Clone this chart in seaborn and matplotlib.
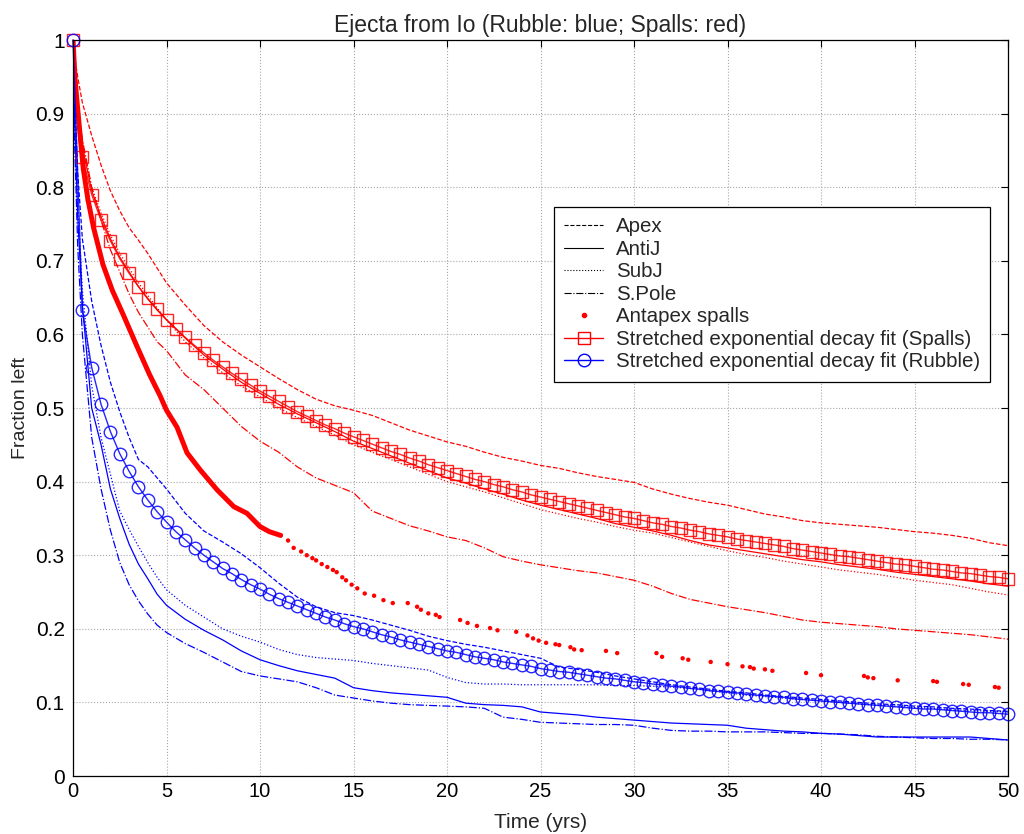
import numpy as np
import matplotlib
matplotlib.use("Agg")
import matplotlib.pyplot as plt
import seaborn as sns
from matplotlib.lines import Line2D

# ---------------- data ----------------
t_lines = [0, 0.1, 0.25, 0.5, 1, 1.5, 2, 2.5, 3, 3.5, 4, 4.5, 5,
           6, 7, 8, 9, 10, 11, 12, 13, 14, 15, 16, 17, 18, 19, 20,
           21, 22, 23, 24, 25, 26, 27, 28, 29, 30, 31, 32, 33, 34, 35,
           36, 37, 38, 39, 40, 41, 42, 43, 44, 45, 46, 47, 48, 49, 50]

spall_apex = [1, 0.975, 0.95, 0.915, 0.87, 0.83, 0.795, 0.768, 0.745, 0.728, 0.71, 0.69, 0.67,
              0.64, 0.612, 0.59, 0.572, 0.556, 0.54, 0.525, 0.512, 0.503, 0.497, 0.49, 0.48, 0.47, 0.462, 0.454,
              0.448, 0.44, 0.433, 0.428, 0.422, 0.418, 0.412, 0.407, 0.403, 0.399, 0.39, 0.383, 0.377, 0.372, 0.368,
              0.362, 0.356, 0.352, 0.347, 0.344, 0.342, 0.34, 0.338, 0.335, 0.332, 0.33, 0.327, 0.323, 0.317, 0.313]
spall_antij = [1, 0.95, 0.9, 0.855, 0.795, 0.76, 0.73, 0.705, 0.685, 0.665, 0.648, 0.633, 0.62,
               0.595, 0.572, 0.553, 0.535, 0.52, 0.505, 0.492, 0.48, 0.468, 0.455, 0.445, 0.435, 0.425, 0.415, 0.405,
               0.398, 0.39, 0.383, 0.375, 0.368, 0.362, 0.356, 0.35, 0.343, 0.338, 0.333, 0.327, 0.32, 0.314, 0.31,
               0.306, 0.302, 0.298, 0.294, 0.291, 0.287, 0.284, 0.281, 0.277, 0.274, 0.271, 0.268, 0.265, 0.261, 0.258]
spall_subj = [1, 0.955, 0.91, 0.86, 0.80, 0.765, 0.735, 0.71, 0.69, 0.67, 0.653, 0.636, 0.62,
              0.59, 0.568, 0.548, 0.53, 0.515, 0.5, 0.487, 0.475, 0.463, 0.45, 0.44, 0.43, 0.42, 0.41, 0.40,
              0.393, 0.386, 0.378, 0.37, 0.362, 0.356, 0.35, 0.345, 0.339, 0.334, 0.33, 0.324, 0.318, 0.312, 0.306,
              0.301, 0.297, 0.292, 0.288, 0.284, 0.28, 0.277, 0.274, 0.27, 0.266, 0.263, 0.26, 0.255, 0.25, 0.246]
spall_spole = [1, 0.95, 0.91, 0.865, 0.80, 0.755, 0.715, 0.685, 0.655, 0.63, 0.61, 0.59, 0.578,
               0.545, 0.525, 0.50, 0.475, 0.455, 0.44, 0.42, 0.405, 0.395, 0.385, 0.36, 0.35, 0.34, 0.333, 0.325,
               0.32, 0.31, 0.298, 0.292, 0.287, 0.283, 0.279, 0.276, 0.271, 0.266, 0.258, 0.248, 0.24, 0.235, 0.23,
               0.226, 0.222, 0.217, 0.212, 0.209, 0.207, 0.205, 0.203, 0.2, 0.198, 0.196, 0.194, 0.192, 0.189, 0.186]

rubble_apex = [1, 0.92, 0.82, 0.73, 0.645, 0.585, 0.535, 0.495, 0.46, 0.43, 0.42, 0.405, 0.39,
               0.357, 0.333, 0.318, 0.302, 0.283, 0.262, 0.243, 0.23, 0.222, 0.218, 0.212, 0.205, 0.198, 0.19, 0.184,
               0.179, 0.175, 0.17, 0.165, 0.16, 0.148, 0.145, 0.141, 0.136, 0.132, 0.128, 0.124, 0.121, 0.118, 0.115,
               0.113, 0.11, 0.108, 0.106, 0.104, 0.102, 0.1, 0.098, 0.097, 0.095, 0.094, 0.092, 0.091, 0.089, 0.088]
rubble_antij = [1, 0.88, 0.76, 0.64, 0.50, 0.45, 0.39, 0.35, 0.315, 0.288, 0.268, 0.247, 0.232,
                0.213, 0.198, 0.185, 0.17, 0.158, 0.15, 0.143, 0.138, 0.133, 0.12, 0.116, 0.113, 0.111, 0.109, 0.107,
                0.099, 0.097, 0.096, 0.094, 0.087, 0.085, 0.083, 0.08, 0.078, 0.076, 0.074, 0.072, 0.071, 0.07, 0.069,
                0.065, 0.063, 0.061, 0.06, 0.058, 0.057, 0.055, 0.053, 0.053, 0.053, 0.053, 0.053, 0.053, 0.051, 0.049]
rubble_subj = [1, 0.9, 0.78, 0.66, 0.53, 0.46, 0.41, 0.36, 0.335, 0.312, 0.29, 0.27, 0.253,
               0.232, 0.216, 0.2, 0.19, 0.182, 0.172, 0.165, 0.161, 0.159, 0.157, 0.153, 0.15, 0.147, 0.144, 0.134,
               0.127, 0.125, 0.125, 0.124, 0.124, 0.124, 0.124, 0.124, 0.123, 0.123, 0.122, 0.121, 0.119, 0.116, 0.113,
               0.11, 0.108, 0.106, 0.104, 0.102, 0.1, 0.098, 0.096, 0.095, 0.093, 0.092, 0.09, 0.089, 0.088, 0.087]
rubble_spole = [1, 0.85, 0.72, 0.6, 0.46, 0.39, 0.334, 0.29, 0.26, 0.238, 0.22, 0.205, 0.195,
                0.18, 0.168, 0.155, 0.142, 0.136, 0.132, 0.128, 0.12, 0.11, 0.106, 0.102, 0.099, 0.097, 0.096, 0.095,
                0.094, 0.092, 0.08, 0.077, 0.073, 0.072, 0.071, 0.07, 0.07, 0.069, 0.065, 0.062, 0.061, 0.061, 0.06,
                0.06, 0.06, 0.059, 0.058, 0.058, 0.057, 0.056, 0.054, 0.053, 0.052, 0.051, 0.051, 0.05, 0.05, 0.049]

# Antapex spalls: dense early part and sparse later dots
antapex_t_dense = [0, 0.1, 0.2, 0.4, 0.55, 0.8, 1.1, 1.4, 1.6, 2.1, 2.7, 3.4, 4.1, 4.65, 5.0,
                   5.56, 6.1, 6.8, 7.7, 8.6, 9.3, 10.0, 10.5, 11.1]
antapex_y_dense = [1, 0.95, 0.92, 0.865, 0.825, 0.783, 0.745, 0.715, 0.695, 0.66, 0.626, 0.585, 0.545, 0.517, 0.497,
                   0.474, 0.439, 0.416, 0.389, 0.366, 0.357, 0.339, 0.332, 0.327]
antapex_t_dots = [11.1, 11.5, 11.8, 12.2, 12.5, 12.8, 13.0, 13.3, 13.6, 13.9, 14.1, 14.4, 14.6, 14.9, 15.2, 15.6,
                  16.1, 16.6, 17.1, 17.9, 18.4, 18.6, 19.0, 19.4, 19.6, 20.7, 21.1, 21.6, 22.3, 22.7, 23.7, 24.3,
                  24.6, 24.9, 25.3, 25.8, 26.0, 26.6, 26.8, 27.2, 28.5, 29.1, 31.2, 31.5, 32.6, 32.9, 34.1, 35.0,
                  35.8, 36.2, 36.4, 37.0, 37.4, 39.2, 40.0, 42.3, 42.5, 42.8, 44.1, 46.0, 46.2, 47.6, 47.9, 49.3, 49.5]
antapex_y_dots = [0.327, 0.32, 0.31, 0.305, 0.30, 0.296, 0.293, 0.288, 0.284, 0.28, 0.277, 0.27, 0.266, 0.26, 0.255, 0.248,
                  0.245, 0.239, 0.235, 0.235, 0.23, 0.226, 0.221, 0.219, 0.216, 0.212, 0.208, 0.204, 0.201, 0.198, 0.196, 0.191,
                  0.187, 0.184, 0.181, 0.179, 0.178, 0.175, 0.172, 0.171, 0.17, 0.167, 0.167, 0.162, 0.16, 0.158, 0.155, 0.152,
                  0.149, 0.148, 0.146, 0.145, 0.143, 0.14, 0.137, 0.136, 0.134, 0.133, 0.13, 0.129, 0.128, 0.125, 0.124, 0.121, 0.12]

t_fit = np.arange(0, 50.5, 0.5)
fit_spalls = [1.0, 0.841, 0.790, 0.755, 0.727, 0.703, 0.683, 0.665, 0.649, 0.634, 0.620,
              0.608, 0.596, 0.585, 0.575, 0.565, 0.556, 0.547, 0.539, 0.531, 0.523,
              0.516, 0.509, 0.502, 0.495, 0.489, 0.483, 0.477, 0.472, 0.466, 0.461,
              0.456, 0.451, 0.446, 0.441, 0.437, 0.432, 0.428, 0.423, 0.419, 0.415,
              0.411, 0.407, 0.403, 0.400, 0.396, 0.393, 0.389, 0.386, 0.382, 0.379,
              0.376, 0.373, 0.370, 0.367, 0.364, 0.361, 0.358, 0.355, 0.352, 0.350,
              0.347, 0.344, 0.342, 0.339, 0.337, 0.334, 0.332, 0.329, 0.327, 0.325,
              0.322, 0.320, 0.318, 0.316, 0.314, 0.312, 0.309, 0.307, 0.305, 0.303,
              0.301, 0.299, 0.298, 0.296, 0.294, 0.292, 0.290, 0.288, 0.287, 0.285,
              0.283, 0.281, 0.280, 0.278, 0.276, 0.275, 0.273, 0.271, 0.270, 0.268]
fit_rubble = [1.0, 0.633, 0.555, 0.505, 0.468, 0.438, 0.414, 0.393, 0.375, 0.359, 0.345,
              0.332, 0.321, 0.310, 0.300, 0.291, 0.282, 0.275, 0.267, 0.260, 0.254,
              0.247, 0.241, 0.236, 0.231, 0.226, 0.221, 0.216, 0.212, 0.207, 0.203,
              0.200, 0.196, 0.192, 0.189, 0.185, 0.182, 0.179, 0.176, 0.173, 0.170,
              0.168, 0.165, 0.162, 0.160, 0.158, 0.155, 0.153, 0.151, 0.149, 0.146,
              0.144, 0.142, 0.141, 0.139, 0.137, 0.135, 0.133, 0.132, 0.130, 0.128,
              0.127, 0.125, 0.124, 0.122, 0.121, 0.119, 0.118, 0.116, 0.115, 0.114,
              0.113, 0.111, 0.110, 0.109, 0.108, 0.107, 0.105, 0.104, 0.103, 0.102,
              0.101, 0.100, 0.099, 0.098, 0.097, 0.096, 0.095, 0.094, 0.093, 0.092,
              0.091, 0.091, 0.090, 0.089, 0.088, 0.087, 0.086, 0.086, 0.085, 0.084]

x_ticks = [0, 5, 10, 15, 20, 25, 30, 35, 40, 45, 50]
y_ticks = [0, 0.1, 0.2, 0.3, 0.4, 0.5, 0.6, 0.7, 0.8, 0.9, 1.0]
y_tick_labels = ['0', '0.1', '0.2', '0.3', '0.4', '0.5', '0.6', '0.7', '0.8', '0.9', '1']
legend_labels = ['Apex', 'AntiJ', 'SubJ', 'S.Pole', 'Antapex spalls',
                 'Stretched exponential decay fit (Spalls)',
                 'Stretched exponential decay fit (Rubble)']

# ---------------- plot ----------------
sns.set_theme(style="white")
plt.rcParams['font.family'] = ['Liberation Sans', 'DejaVu Sans']

fig = plt.figure(figsize=(10.24, 8.34), dpi=100)
ax = fig.add_axes([0.0713, 0.0695, 0.9131, 0.8825])

RED = '#ff0000'
BLUE = '#0000ff'
styles = ['--', '-', ':', '-.']
lw = 0.9

for vals, ls in zip([spall_apex, spall_antij, spall_subj, spall_spole], styles):
    sns.lineplot(x=t_lines, y=vals, ax=ax, color=RED, linestyle=ls, linewidth=lw,
                 estimator=None, sort=False)
for vals, ls in zip([rubble_apex, rubble_antij, rubble_subj, rubble_spole], styles):
    sns.lineplot(x=t_lines, y=vals, ax=ax, color=BLUE, linestyle=ls, linewidth=lw,
                 estimator=None, sort=False)

# Antapex spalls
sns.lineplot(x=antapex_t_dense, y=antapex_y_dense, ax=ax, color=RED, linewidth=3.6,
             estimator=None, sort=False)
sns.scatterplot(x=antapex_t_dots, y=antapex_y_dots, ax=ax, color=RED, s=10,
                edgecolor='none', linewidth=0)

# fits
ax.plot(t_fit, fit_spalls, color=RED, linewidth=1.0, marker='s', markersize=8,
        markerfacecolor='none', markeredgecolor=RED, markeredgewidth=1.0, clip_on=False, alpha=0.85)
ax.plot(t_fit, fit_rubble, color=BLUE, linewidth=1.0, marker='o', markersize=9,
        markerfacecolor='none', markeredgecolor=BLUE, markeredgewidth=1.0, clip_on=False, alpha=0.85)

ax.set_xlim(0, 50)
ax.set_ylim(0, 1)
ax.set_xticks(x_ticks)
ax.set_xticklabels([str(v) for v in x_ticks], fontsize=14.5)
ax.set_yticks(y_ticks)
ax.set_yticklabels(y_tick_labels, fontsize=15)
ax.tick_params(direction='in', top=True, right=True, length=5, width=0.8,
               colors='black')
ax.tick_params(axis='x', pad=4)
ax.tick_params(axis='y', pad=6)
ax.grid(True, linestyle=':', color='#a8a8a8', linewidth=0.8)
for sp in ax.spines.values():
    sp.set_color('black')
    sp.set_linewidth(0.9)

ax.set_title('Ejecta from Io (Rubble: blue; Spalls: red)', fontsize=16.5, pad=6)
ax.set_xlabel('Time (yrs)', fontsize=15, labelpad=9)
ax.set_ylabel('Fraction left', fontsize=14, labelpad=5)

handles = [
    Line2D([], [], color='black', linestyle='--', linewidth=0.8),
    Line2D([], [], color='black', linestyle='-', linewidth=0.8),
    Line2D([], [], color='black', linestyle=':', linewidth=0.8),
    Line2D([], [], color='black', linestyle='-.', linewidth=0.8),
    Line2D([], [], color=RED, linestyle='none', marker='.', markersize=6),
    Line2D([], [], color=RED, linestyle='-', linewidth=1.0, marker='s', markersize=8,
           markerfacecolor='none'),
    Line2D([], [], color=BLUE, linestyle='-', linewidth=1.0, marker='o', markersize=9,
           markerfacecolor='none'),
]
leg = ax.legend(handles, legend_labels, loc='upper right', bbox_to_anchor=(0.981, 0.773),
                borderaxespad=0, frameon=True, fancybox=False, framealpha=1,
                edgecolor='black', fontsize=14.8, handlelength=1.9, labelspacing=0.17,
                handletextpad=0.62, borderpad=0.5)
leg.get_frame().set_linewidth(0.9)

fig.savefig('out.png', dpi=100)
